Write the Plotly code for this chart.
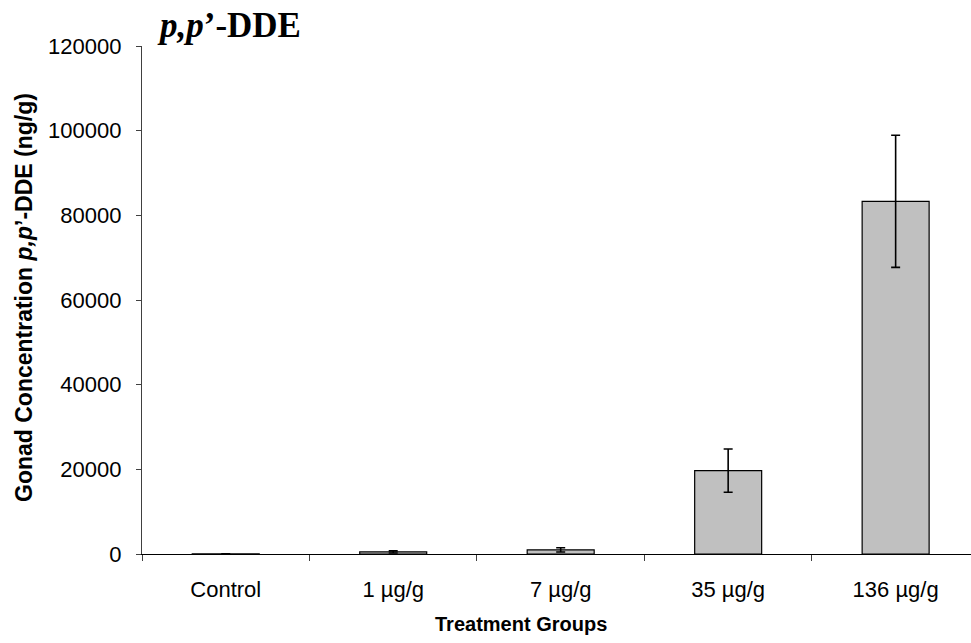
import plotly.graph_objects as go

categories = ["Control", "1 µg/g", "7 µg/g", "35 µg/g", "136 µg/g"]
values = [40, 500, 980, 19700, 83300]
errors = [20, 250, 500, 5100, 15600]
y_ticks = [0, 20000, 40000, 60000, 80000, 100000, 120000]

fig = go.Figure()
fig.add_trace(go.Bar(
    x=categories, y=values,
    width=0.40,
    marker=dict(color="#C0C0C0", line=dict(color="black", width=1.2)),
    error_y=dict(type="data", array=errors, visible=True, color="black", thickness=1.6, width=4.5),
))

fig.update_layout(
    width=971, height=643, autosize=False,
    margin=dict(l=142, r=0, t=46, b=89),
    plot_bgcolor="white", paper_bgcolor="white",
    showlegend=False,
    font=dict(family="Liberation Sans, Arial, sans-serif", size=22, color="black"),
    xaxis=dict(
        type="category", range=[-0.5, 4.45],
        showline=True, linecolor="black", linewidth=1.2,
        ticks="outside", tickson="boundaries", ticklen=6, tickcolor="#404040",
        showgrid=False, tickfont=dict(size=22), ticklabelstandoff=15,
    ),
    yaxis=dict(
        range=[0, 120000], tickvals=y_ticks, ticktext=[str(v) for v in y_ticks],
        showline=True, linecolor="#404040", linewidth=1.2,
        ticks="outside", ticklen=5, tickcolor="#404040",
        showgrid=False, zeroline=False, tickfont=dict(size=22), ticklabelstandoff=10,
    ),
    annotations=[
        dict(text="<b><i>p,p</i>’-DDE</b>", xref="paper", yref="paper",
             x=(155 - 142) / 829, y=1 + (46 - 25) / 508, xanchor="left", yanchor="middle",
             showarrow=False, font=dict(family="Liberation Serif, Times New Roman, serif", size=35, color="black")),
        dict(text="<b>Gonad Concentration <i>p,p</i>’-DDE (ng/g)</b>", xref="paper", yref="paper",
             x=(24 - 142) / 829, y=(554 - 298) / 508, xanchor="center", yanchor="middle", textangle=-90,
             showarrow=False, font=dict(size=23)),
        dict(text="<b>Treatment Groups</b>", xref="paper", yref="paper",
             x=(521 - 142) / 829, y=-(624 - 554) / 508, xanchor="center", yanchor="middle",
             showarrow=False, font=dict(size=20)),
    ],
)

fig.write_html("out.html", config={"displayModeBar": False},
               post_script="document.body.style.margin='0';")
